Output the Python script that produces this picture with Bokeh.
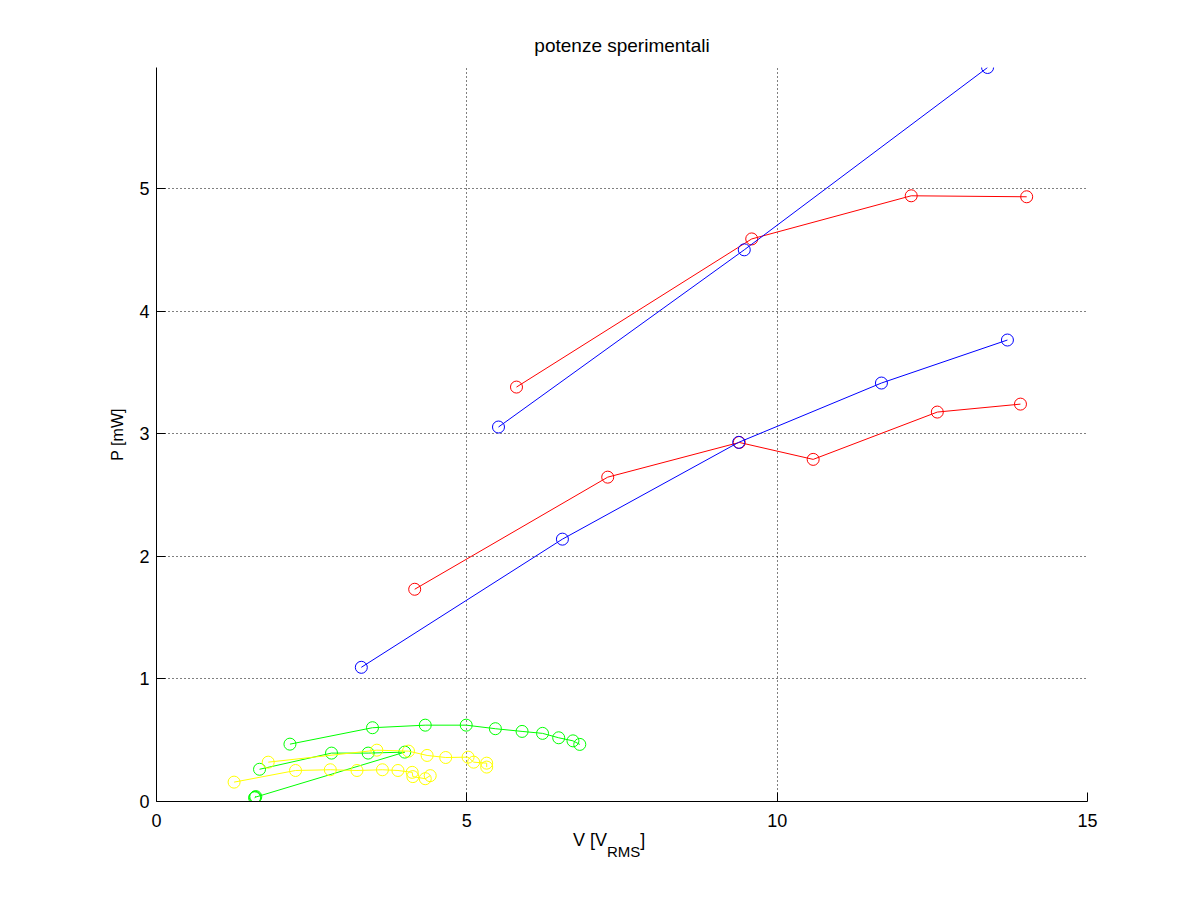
from bokeh.plotting import figure
from bokeh.models import Range1d, FixedTicker, Div
from bokeh.layouts import column
from bokeh.embed import file_html
from bokeh.resources import INLINE

# ---- data ----
red1_v = [4.16, 7.27, 9.39, 10.58, 12.58, 13.92]
red1_p = [1.732, 2.647, 2.930, 2.792, 3.178, 3.243]

red2_v = [5.80, 9.59, 12.16, 14.02]
red2_p = [3.382, 4.591, 4.943, 4.935]

blue1_v = [3.30, 6.54, 9.38, 11.68, 13.71]
blue1_p = [1.095, 2.141, 2.931, 3.415, 3.766]

blue2_v = [5.51, 9.47, 13.39]
blue2_p = [3.056, 4.502, 5.990]

green1_v = [2.15, 3.48, 4.33, 4.99, 5.46, 5.89, 6.22, 6.48, 6.71, 6.82]
green1_p = [0.468, 0.602, 0.623, 0.623, 0.594, 0.572, 0.556, 0.520, 0.495, 0.466]

green2_v = [1.66, 2.82, 3.41, 4.00, 1.59, 1.60, 1.58]
green2_p = [0.263, 0.395, 0.395, 0.403, 0.035, 0.040, 0.030]

yellow1_v = [1.80, 3.55, 4.06, 4.36, 4.66, 5.02, 5.11, 5.32, 5.32]
yellow1_p = [0.321, 0.419, 0.411, 0.376, 0.359, 0.362, 0.321, 0.313, 0.281]

yellow2_v = [1.25, 2.24, 2.80, 3.23, 3.64, 3.89, 4.12, 4.13, 4.33, 4.41]
yellow2_p = [0.158, 0.253, 0.259, 0.253, 0.259, 0.253, 0.238, 0.203, 0.186, 0.211]

x_ticks = [0, 5, 10, 15]
y_ticks = [0, 1, 2, 3, 4, 5]

FONT = "Liberation Sans"

p = figure(width=1185, height=834, output_backend="svg", toolbar_location=None,
           x_range=Range1d(0, 15), y_range=Range1d(0, 5.99),
           min_border_left=156, min_border_right=98,
           min_border_top=67, min_border_bottom=33)

p.title.text = "potenze sperimentali"
p.title.align = "center"
p.title.text_font = FONT
p.title.text_font_size = "19px"
p.title.text_font_style = "normal"
p.title.text_color = "black"
p.title.standoff = 23

p.outline_line_color = None
p.background_fill_color = "white"
p.border_fill_color = "white"

for ax in (p.xaxis[0], p.yaxis[0]):
    ax.axis_line_color = "black"
    ax.major_tick_line_color = "black"
    ax.major_tick_in = 9
    ax.major_tick_out = 0
    ax.minor_tick_line_color = None
    ax.major_label_text_font = FONT
    ax.major_label_text_font_size = "18px"
    ax.major_label_text_color = "black"

p.xaxis[0].ticker = FixedTicker(ticks=x_ticks)
p.yaxis[0].ticker = FixedTicker(ticks=y_ticks)
p.xaxis[0].major_label_standoff = 12
p.yaxis[0].major_label_standoff = 7

p.yaxis[0].axis_label = "P [mW]"
p.yaxis[0].axis_label_text_font = FONT
p.yaxis[0].axis_label_text_font_size = "16px"
p.yaxis[0].axis_label_text_font_style = "normal"
p.yaxis[0].axis_label_text_color = "black"
p.yaxis[0].axis_label_standoff = 10

for g in (p.xgrid[0], p.ygrid[0]):
    g.grid_line_color = "black"
    g.grid_line_dash = "1 3"
    g.grid_line_width = 1
    g.grid_line_alpha = 1.0
p.xgrid[0].ticker = FixedTicker(ticks=x_ticks)
p.ygrid[0].ticker = FixedTicker(ticks=y_ticks)

series = [
    (red1_v, red1_p, "#ff0000"),
    (red2_v, red2_p, "#ff0000"),
    (blue1_v, blue1_p, "#0000ff"),
    (blue2_v, blue2_p, "#0000ff"),
    (green1_v, green1_p, "#00ff00"),
    (green2_v, green2_p, "#00ff00"),
    (yellow1_v, yellow1_p, "#ffff00"),
    (yellow2_v, yellow2_p, "#ffff00"),
]
for xs, ys, c in series:
    p.line(xs, ys, line_color=c, line_width=1)
    p.scatter(xs, ys, marker="circle", size=12, fill_color=None,
              line_color=c, line_width=1)

# x axis label with a real subscript, as HTML text below the plot
xlabel = Div(
    width=1185, height=51,
    text=('<div style="position:relative; top:-6px; padding-left:568px; '
          'font-family:\'Liberation Sans\', Arial, sans-serif; '
          'font-size:18px; line-height:14px; color:black; white-space:nowrap;">'
          'V [V<span style="font-size:15px; vertical-align:-11px;">RMS</span>]</div>'),
)

layout = column(p, xlabel, spacing=0)
open("out.html", "w").write(file_html(layout, INLINE))
